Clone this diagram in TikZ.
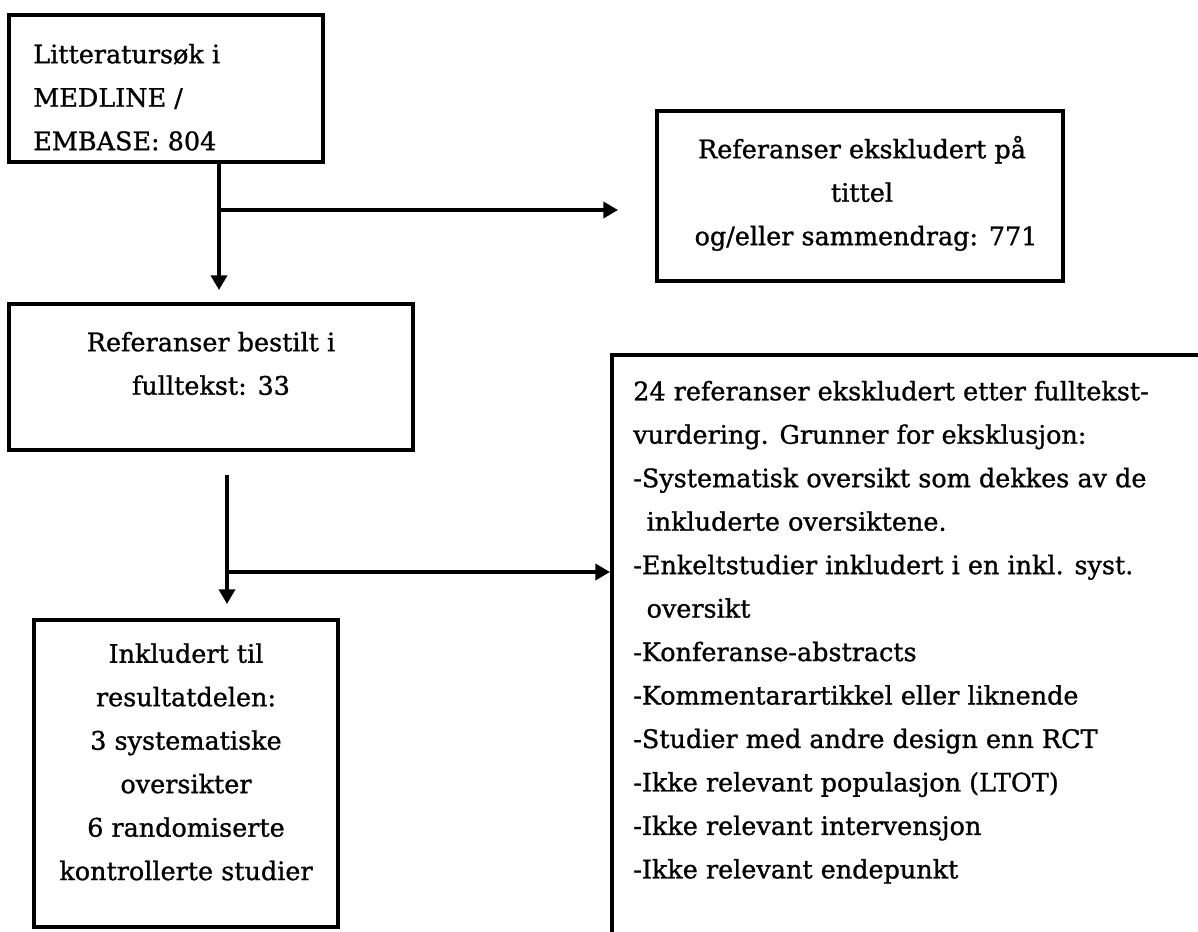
\documentclass[tikz,border=0pt]{standalone}
\usepackage{fontspec}
\setmainfont{DejaVu Serif}[FakeBold=1]
\usetikzlibrary{arrows.meta}
\begin{document}
\begin{tikzpicture}[x=0.75pt,y=-0.75pt,
  boxline/.style={draw=black, line width=3pt, fill=none, inner sep=0pt},
  txt/.style={inner sep=0pt, font=\fontsize{19.1}{32.6}\selectfont},
  conn/.style={line width=2.8pt, -{Triangle[length=11pt,width=12pt]}}
]
\useasboundingbox (0,0) rectangle (1198,931);
\clip (0,0) rectangle (1198,931);
\fill[white] (0,0) rectangle (1198,931);

% boxes
\node[boxline, minimum width=314*0.75pt, minimum height=147*0.75pt] (b1) at (166,88.5) {};
\node[boxline, minimum width=406*0.75pt, minimum height=170*0.75pt] (b2) at (860,196) {};
\node[boxline, minimum width=404*0.75pt, minimum height=146*0.75pt] (b3) at (211,377) {};
\node[boxline, minimum width=304*0.75pt, minimum height=307*0.75pt] (b4) at (186,773.5) {};
\node[boxline, minimum width=640*0.75pt, minimum height=640*0.75pt, anchor=north west] (b5) at (610,353) {};

% texts
\node[txt, anchor=north west, align=left] (t1) at (33,{63-30.45}) {\strut Litteratursøk i\\MEDLINE /\\EMBASE: 804};
\node[txt, anchor=north, align=center] (t2) at (862,{158-30.45}) {\strut Referanser ekskludert på\\tittel\\\ og/eller sammendrag: 771};
\node[txt, anchor=north, align=center] (t3) at (211,{351-30.45}) {\strut Referanser bestilt i\\fulltekst: 33};
\node[txt, anchor=north, align=center] (t4) at (186,{662.5-30.45}) {\strut Inkludert til\\resultatdelen:\\3 systematiske\\oversikter\\6 randomiserte\\kontrollerte studier};
\node[txt, anchor=north west, align=left] (t5) at (633,{400-30.45}) {\strut 24 referanser ekskludert etter fulltekst-\\vurdering. Grunner for eksklusjon:\\-Systematisk oversikt som dekkes av de\\\hspace*{10pt}inkluderte oversiktene.\\-Enkeltstudier inkludert i en inkl. syst.\\\hspace*{10pt}oversikt\\-Konferanse-abstracts\\-Kommentarartikkel eller liknende\\-Studier med andre design enn RCT\\-Ikke relevant populasjon (LTOT)\\-Ikke relevant intervensjon\\-Ikke relevant endepunkt};

% connector coordinates
\coordinate (j1) at (219,210);
\coordinate (e1) at (219,290);
\coordinate (h1) at (618,210);
\coordinate (s2) at (227,475);
\coordinate (j2) at (227,572);
\coordinate (e2) at (227,604);

\draw[conn] (b1.south -| j1) -- (e1);
\draw[conn] (j1) -- (h1);
\draw[conn] (s2) -- (e2);
\draw[conn] (j2) -- (j2 -| b5.west);
\end{tikzpicture}
\end{document}
